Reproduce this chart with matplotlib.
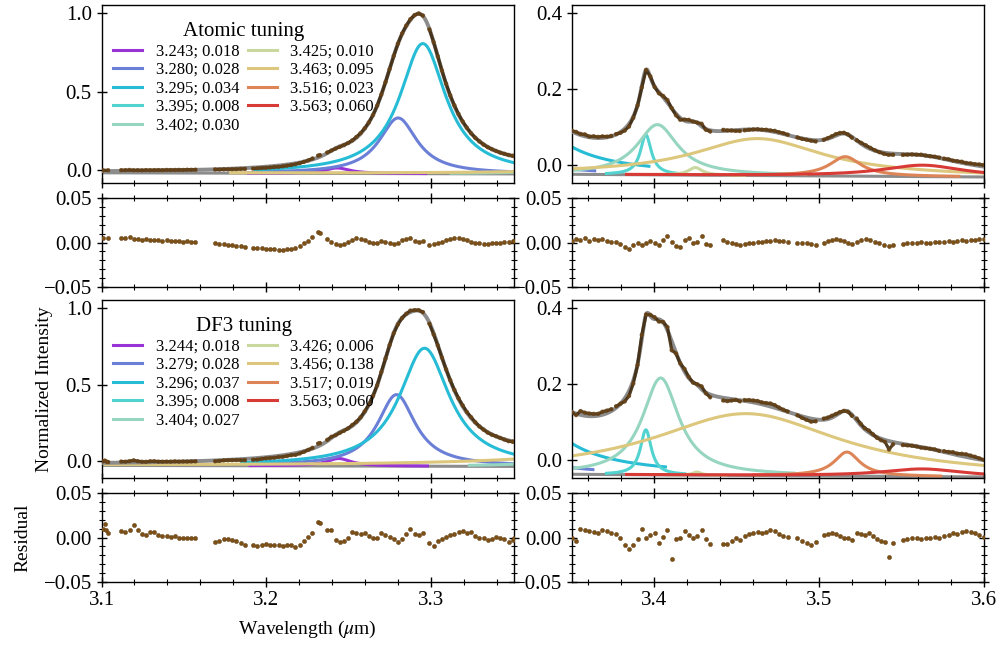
import matplotlib
matplotlib.use("Agg")
import matplotlib.pyplot as plt
import numpy as np
from matplotlib.ticker import MultipleLocator

plt.rcParams["font.family"] = ["Liberation Serif", "DejaVu Serif"]
plt.rcParams["mathtext.fontset"] = "stix"
plt.rcParams["xtick.labelsize"] = 15
plt.rcParams["ytick.labelsize"] = 15
plt.rcParams["axes.labelsize"] = 14

COLORS = ["#9a33d6", "#6b7fd7", "#27bcd6", "#52d3d0", "#96d5bf",
          "#c8d89f", "#dcc77c", "#de8558", "#d83a36"]

# component parameters: centre (um), FWHM (um), peak height above continuum
atomic_centers = [3.243, 3.280, 3.295, 3.395, 3.402, 3.425, 3.463, 3.516, 3.563]
atomic_fwhm = [0.018, 0.028, 0.034, 0.008, 0.030, 0.010, 0.095, 0.023, 0.060]
atomic_amp = [0.035, 0.355, 0.83, 0.105, 0.132, 0.020, 0.097, 0.051, 0.030]
atomic_cont = [-0.018, -0.032]  # continuum at 3.1 and 3.6 um

df3_centers = [3.244, 3.279, 3.296, 3.395, 3.404, 3.426, 3.456, 3.517, 3.563]
df3_fwhm = [0.018, 0.028, 0.037, 0.008, 0.027, 0.006, 0.138, 0.019, 0.060]
df3_amp = [0.049, 0.469, 0.774, 0.118, 0.254, 0.008, 0.162, 0.063, 0.020]
df3_cont = [-0.030, -0.044]

# wavelength ranges that hold observed points
segments = [(3.101, 3.104), (3.112, 3.157), (3.169, 3.187), (3.192, 3.228),
            (3.2315, 3.2325), (3.237, 3.295), (3.299, 3.3495),
            (3.350, 3.374), (3.377, 3.434), (3.442, 3.452), (3.455, 3.481),
            (3.487, 3.498), (3.503, 3.520), (3.523, 3.545), (3.551, 3.573),
            (3.576, 3.600)]

# residual (data - fit) read per segment
atomic_res = [
    [0.005, 0.005],
    [0.005, 0.005, 0.006, 0.004, 0.004, 0.003, 0.004, 0.003, 0.003, 0.003,
     0.002, 0.003, 0.002, 0.002, 0.002, 0.001, 0.002, 0.001, 0.001],
    [-0.001, -0.002, -0.002, -0.003, -0.003, -0.004, -0.004, -0.005],
    [-0.006, -0.006, -0.006, -0.007, -0.007, -0.007, -0.008, -0.008, -0.007,
     -0.007, -0.006, -0.004, -0.001, 0.002, 0.006],
    [0.012, 0.011],
    [0.004, 0.001, -0.002, -0.003, -0.002, 0.001, 0.003, 0.005, 0.004, 0.003,
     0.001, -0.001, 0.000, 0.002, 0.001, -0.001, -0.002, 0.000, 0.003, 0.004,
     0.005, 0.002, 0.001, 0.002],
    [-0.003, -0.002, 0.000, 0.001, 0.003, 0.004, 0.005, 0.005, 0.004, 0.003,
     0.001, -0.001, -0.001, -0.002, -0.002, -0.001, 0.000, 0.000, 0.001, 0.001,
     0.002],
    [0.002, 0.004, 0.003, 0.005, 0.002, 0.004, 0.003, 0.004, 0.002, 0.001],
    [0.001, -0.002, -0.005, -0.007, -0.003, -0.001, -0.003, -0.001, 0.002,
     -0.001, -0.003, 0.003, 0.007, 0.001, -0.004, -0.005, 0.003, 0.005, 0.000,
     0.001, 0.007, -0.002, -0.003],
    [0.003, 0.001, 0.000, -0.002, -0.003],
    [-0.002, -0.001, 0.000, 0.001, 0.001, 0.002, 0.002, 0.003, 0.002, 0.002, 0.001],
    [0.000, -0.001, -0.001, -0.002, -0.003],
    [0.000, 0.002, 0.003, 0.004, 0.003, 0.002, 0.000, -0.002],
    [0.001, 0.003, 0.004, 0.003, 0.001, -0.001, -0.003, -0.004, -0.003],
    [-0.002, -0.001, 0.000, 0.000, 0.001, 0.000, 0.000, 0.001, 0.001],
    [0.001, 0.002, 0.001, 0.002, 0.003, 0.002, 0.003, 0.003, 0.004, 0.004],
]

df3_res = [
    [0.010, 0.015, 0.008, 0.005],
    [0.007, 0.006, 0.009, 0.014, 0.008, 0.004, 0.003, 0.006, 0.006, 0.003,
     0.002, 0.002, 0.001, 0.002, 0.000, 0.000, -0.001, -0.001, -0.001],
    [-0.005, -0.004, -0.002, -0.002, -0.003, -0.004, -0.006, -0.008],
    [-0.009, -0.010, -0.008, -0.007, -0.008, -0.009, -0.008, -0.010, -0.009,
     -0.008, -0.011, -0.008, -0.004, 0.001, 0.005],
    [0.018, 0.016],
    [0.008, 0.008, -0.003, -0.005, -0.004, 0.000, 0.006, 0.005, 0.004, 0.005,
     0.002, 0.000, -0.001, 0.005, 0.003, 0.001, -0.002, -0.005, -0.002, 0.004,
     0.010, 0.004, 0.003, 0.005],
    [-0.006, -0.010, -0.004, -0.002, 0.001, 0.003, 0.004, 0.006, 0.007, 0.005,
     0.006, 0.002, -0.001, -0.001, -0.003, -0.002, 0.001, 0.000, -0.002, -0.005,
     -0.003],
    [-0.001, -0.004, 0.010, 0.008, 0.007, 0.006, 0.005, 0.008, 0.007, 0.005],
    [0.004, 0.000, -0.008, -0.013, -0.008, -0.002, 0.010, 0.000, 0.003, 0.005,
     -0.006, 0.001, 0.008, -0.024, -0.002, -0.001, 0.007, 0.003, -0.001, 0.002,
     0.008, -0.002, -0.007],
    [-0.007, -0.007, -0.004, -0.001, -0.003],
    [0.002, 0.004, 0.005, 0.006, 0.005, 0.006, 0.008, 0.007, 0.004, 0.002, 0.001],
    [-0.001, -0.004, -0.006, -0.008, -0.005],
    [0.003, 0.004, 0.005, 0.004, 0.002, 0.000, -0.001, -0.003],
    [0.005, 0.004, 0.003, 0.005, 0.002, -0.002, -0.004, -0.005, -0.022, -0.006],
    [-0.003, -0.002, -0.001, -0.001, -0.002, -0.001, 0.000, 0.001, 0.000],
    [0.002, 0.003, 0.005, 0.004, 0.006, 0.007, 0.006, 0.005, 0.003, 0.001],
]

X_LEFT = (3.1, 3.35)
X_RIGHT = (3.35, 3.6)


def continuum(lam, cont):
    return np.interp(lam, [3.1, 3.6], cont)


def lorentz(lam, c, w, a):
    g = w / 2.0
    return a * g**2 / ((lam - c) ** 2 + g**2)


def model(lam, centers, fwhm, amp, cont):
    y = continuum(lam, cont)
    for c, w, a in zip(centers, fwhm, amp):
        y = y + lorentz(lam, c, w, a)
    return y


def segment_points(res_lists):
    return [(np.linspace(lo, hi, len(r)), np.asarray(r, float))
            for (lo, hi), r in zip(segments, res_lists)]


def draw_spectrum(ax, pars, pts, xlim, title=None):
    centers, fwhm, amp, cont = pars
    grid = np.linspace(xlim[0], xlim[1], 700)
    ax.plot(grid, continuum(grid, cont), color="#8c8c8c", lw=2.2, zorder=1)
    handles = []
    for c, w, a, col in zip(centers, fwhm, amp, COLORS):
        g = grid[(grid >= c - 3 * w) & (grid <= c + 3 * w)]
        if len(g):
            ax.plot(g, continuum(g, cont) + lorentz(g, c, w, a), color=col, lw=2.2, zorder=2)
        handles.append(plt.Line2D([], [], color=col, lw=2.2, label=f"{c:.3f}; {w:.3f}"))
    ax.plot(grid, model(grid, *pars), color="#8c8c8c", lw=2.8, zorder=3)
    for lam, res in pts:
        m = (lam >= xlim[0]) & (lam <= xlim[1])
        if not m.any():
            continue
        y = model(lam[m], *pars) + res[m]
        ax.plot(lam[m], y, color="#3f2a10", lw=2.3, alpha=0.9, zorder=4)
        ax.scatter(lam[m], y, s=10, color="#6b4518", edgecolors="none",
                   alpha=0.8, zorder=5)
    ax.set_xlim(*xlim)
    if title:
        leg = ax.legend(handles=handles, title=title, ncol=2, loc="upper left",
                        bbox_to_anchor=(0.0, 0.97), frameon=False, fontsize=12,
                        title_fontsize=15, handlelength=1.75, handletextpad=0.8,
                        columnspacing=0.5, labelspacing=0.15, borderaxespad=0.3)
        leg.set_zorder(6)


def draw_residual(ax, pts, xlim):
    for lam, res in pts:
        m = (lam >= xlim[0]) & (lam <= xlim[1])
        ax.scatter(lam[m], res[m], s=9, color="#7d5016", edgecolors="#5a3810",
                   linewidths=0.3, zorder=3)
    ax.set_xlim(*xlim)
    ax.set_ylim(-0.05, 0.05)
    ax.yaxis.set_major_locator(MultipleLocator(0.05))
    ax.yaxis.set_minor_locator(MultipleLocator(0.01))


def style(ax, full_box):
    ax.xaxis.set_major_locator(MultipleLocator(0.1))
    ax.xaxis.set_minor_locator(MultipleLocator(0.02))
    ax.tick_params(which="major", direction="inout", length=7, width=1.0,
                   top=full_box, right=full_box)
    ax.tick_params(which="minor", direction="inout", length=4, width=0.8,
                   top=full_box, right=full_box)
    for s in ax.spines.values():
        s.set_linewidth(1.0)


def main():
    fig = plt.figure(figsize=(10, 6.46), dpi=100)
    xs = [0.1015, 0.5717]
    w = 0.412
    rows = [(0.7172, 0.2751), (0.5562, 0.1368), (0.2605, 0.2751), (0.0995, 0.1368)]

    atomic = (atomic_centers, atomic_fwhm, atomic_amp, atomic_cont)
    df3 = (df3_centers, df3_fwhm, df3_amp, df3_cont)
    pts_a = segment_points(atomic_res)
    pts_d = segment_points(df3_res)

    spec_ylims = {(0, 0): (-0.081, 1.053), (0, 1): (-0.047, 0.42),
                  (2, 0): (-0.111, 1.055), (2, 1): (-0.046, 0.42)}
    axes = {}
    for r, (y0, h) in enumerate(rows):
        for c, x0 in enumerate(xs):
            axes[(r, c)] = fig.add_axes([x0, y0, w, h])

    for c, xlim in enumerate([X_LEFT, X_RIGHT]):
        title_a = "Atomic tuning" if c == 0 else None
        title_d = "DF3 tuning" if c == 0 else None
        draw_spectrum(axes[(0, c)], atomic, pts_a, xlim, title_a)
        draw_residual(axes[(1, c)], pts_a, xlim)
        draw_spectrum(axes[(2, c)], df3, pts_d, xlim, title_d)
        draw_residual(axes[(3, c)], pts_d, xlim)

    for (r, c), ax in axes.items():
        if r in (0, 2):
            ax.set_ylim(*spec_ylims[(r, c)])
            ax.yaxis.set_major_locator(MultipleLocator(0.5 if c == 0 else 0.2))
            style(ax, False)
        else:
            style(ax, True)
        if r != 3:
            ax.tick_params(labelbottom=False)

    axes[(2, 0)].set_ylabel("Normalized Intensity", labelpad=9)
    axes[(3, 0)].set_ylabel("Residual", labelpad=9)
    axes[(3, 0)].set_xlabel(r"Wavelength ($\mu$m)", labelpad=6)

    fig.savefig("out.png", dpi=100)


if __name__ == "__main__":
    main()
